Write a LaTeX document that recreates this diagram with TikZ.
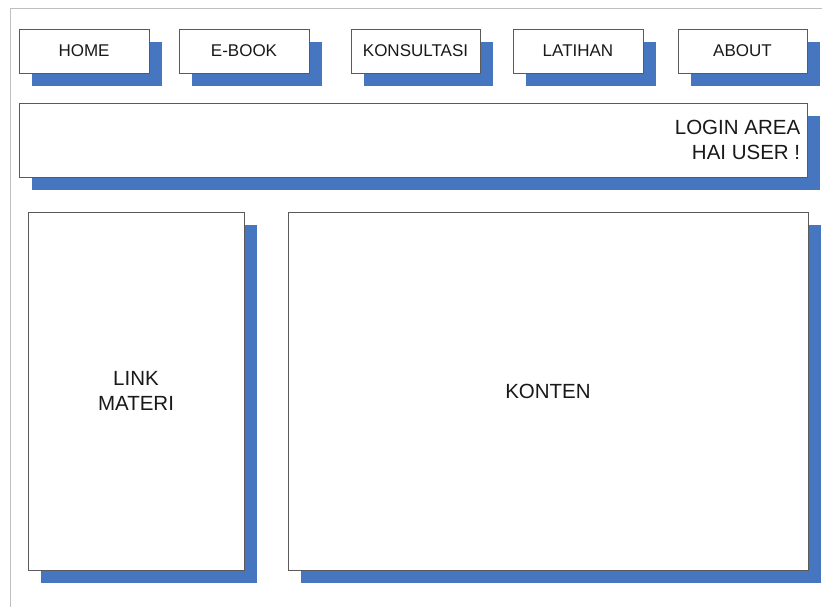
\documentclass[tikz,border=0pt]{standalone}
\usepackage{fontspec}
\setmainfont{Liberation Sans}
\usetikzlibrary{shadows}
\definecolor{shadowblue}{RGB}{70,118,192}
\definecolor{framegray}{RGB}{190,190,190}
\definecolor{edgegray}{RGB}{90,90,90}
\definecolor{inkgray}{RGB}{25,25,25}
\begin{document}
\begin{tikzpicture}[x=1pt,y=-1pt,
  blockbox/.style={draw=edgegray, line width=0.8pt, fill=white, inner sep=0pt, text=inkgray,
    drop shadow={shadow xshift=13pt, shadow yshift=-13pt, fill=shadowblue, opacity=1}},
  menubox/.style={blockbox, minimum width=130pt, minimum height=44pt, font=\fontsize{17}{20}\selectfont},
  bigtext/.style={font=\fontsize{20.5}{25}\selectfont, text=inkgray}
]
\useasboundingbox (0,0) rectangle (822,607);
\fill[white] (0,0) rectangle (822,607);
\draw[framegray, line width=1pt] (10,607) -- (10,9) -- (822,9);

\node[menubox] (home) at (84,51) {HOME};
\node[menubox] (ebook) at (244,51) {E-BOOK};
\node[menubox, minimum width=129pt] (konsultasi) at (415.5,51) {KONSULTASI};
\node[menubox] (latihan) at (578,51) {LATIHAN};
\node[menubox, minimum width=129pt] (about) at (742.5,51) {ABOUT};

\node[blockbox, minimum width=788pt, minimum height=74pt] (login) at (413,140) {};
\node[bigtext, anchor=east, align=right, inner sep=0pt] (logintext) at ([xshift=-7pt]login.east) {LOGIN AREA\\HAI USER !};

\node[blockbox, minimum width=216pt, minimum height=358pt, align=center, bigtext] (link) at (136,391) {LINK\\MATERI};
\node[blockbox, minimum width=520pt, minimum height=358pt, bigtext] (konten) at (548,391) {KONTEN};
\end{tikzpicture}
\end{document}
